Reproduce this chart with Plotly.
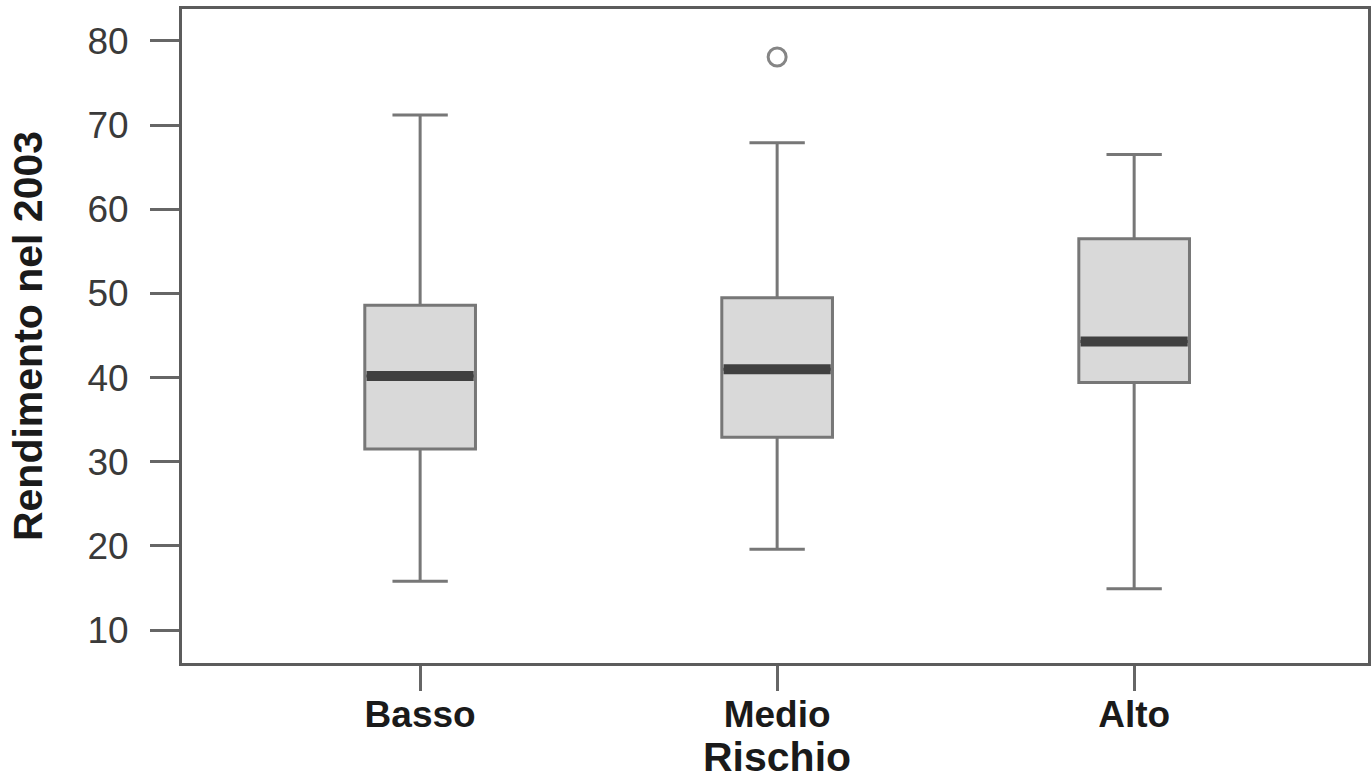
import plotly.graph_objects as go

# Rendimento nel 2003 per classe di rischio
categorie = ["Basso", "Medio", "Alto"]
posizioni = [0, 1, 2]
minimo = [15.8, 19.6, 14.9]
q1 = [31.5, 32.9, 39.4]
mediana = [40.2, 41.0, 44.3]
q3 = [48.6, 49.5, 56.5]
massimo = [71.2, 67.9, 66.5]
# valori anomali: (categoria, valore)
anomali_cat = ["Medio"]
anomali_val = [78.1]

LARGHEZZA = 0.31
FONT = "Liberation Sans, Arial, sans-serif"

fig = go.Figure()

fig.add_trace(go.Box(
    x=posizioni,
    q1=q1, median=mediana, q3=q3,
    lowerfence=minimo, upperfence=massimo,
    width=LARGHEZZA,
    whiskerwidth=0.5,
    fillcolor="#d9d9d9",
    line=dict(color="#777777", width=3),
    boxpoints=False,
    showlegend=False,
    hoverinfo="skip",
))

# linea della mediana, più spessa e scura
for p, m in zip(posizioni, mediana):
    fig.add_trace(go.Scatter(
        x=[p - LARGHEZZA / 2 + 0.005, p + LARGHEZZA / 2 - 0.005], y=[m, m],
        mode="lines", line=dict(color="#404040", width=10),
        showlegend=False, hoverinfo="skip",
    ))

fig.add_trace(go.Scatter(
    x=[posizioni[categorie.index(c)] for c in anomali_cat], y=anomali_val,
    mode="markers",
    marker=dict(symbol="circle-open", size=18, color="#858585",
                line=dict(width=3, color="#858585")),
    showlegend=False, hoverinfo="skip",
))

asse = dict(
    showline=True, mirror=True, linecolor="#5c5c5c", linewidth=3,
    ticks="outside", tickcolor="#666666", tickwidth=3,
    showgrid=False, zeroline=False, automargin=False,
)

fig.update_layout(
    width=1372, height=780,
    margin=dict(l=182, r=4, t=9, b=117),
    paper_bgcolor="white", plot_bgcolor="white",
    font=dict(family=FONT),
    xaxis=dict(
        asse, range=[-0.667, 2.655],
        tickvals=posizioni, ticktext=[f"<b>{c}</b>" for c in categorie],
        ticklen=25, tickfont=dict(size=37, color="#1a1a1a"),
        ticklabelstandoff=-8,
    ),
    yaxis=dict(
        asse, range=[6.08, 83.8],
        tickvals=[10, 20, 30, 40, 50, 60, 70, 80],
        ticklen=29, tickfont=dict(size=37, color="#3a3a3a"),
        ticklabelstandoff=14,
        title=dict(text="<b>Rendimento nel 2003</b>", font=dict(size=41, color="#1a1a1a"), standoff=33),
    ),
)

# titolo dell'asse orizzontale
fig.add_annotation(
    text="<b>Rischio</b>", xref="x", yref="paper",
    x=posizioni[1], y=-0.144, xanchor="center", yanchor="middle",
    showarrow=False, font=dict(size=41, color="#1a1a1a"),
)

fig.write_html("out.html")
